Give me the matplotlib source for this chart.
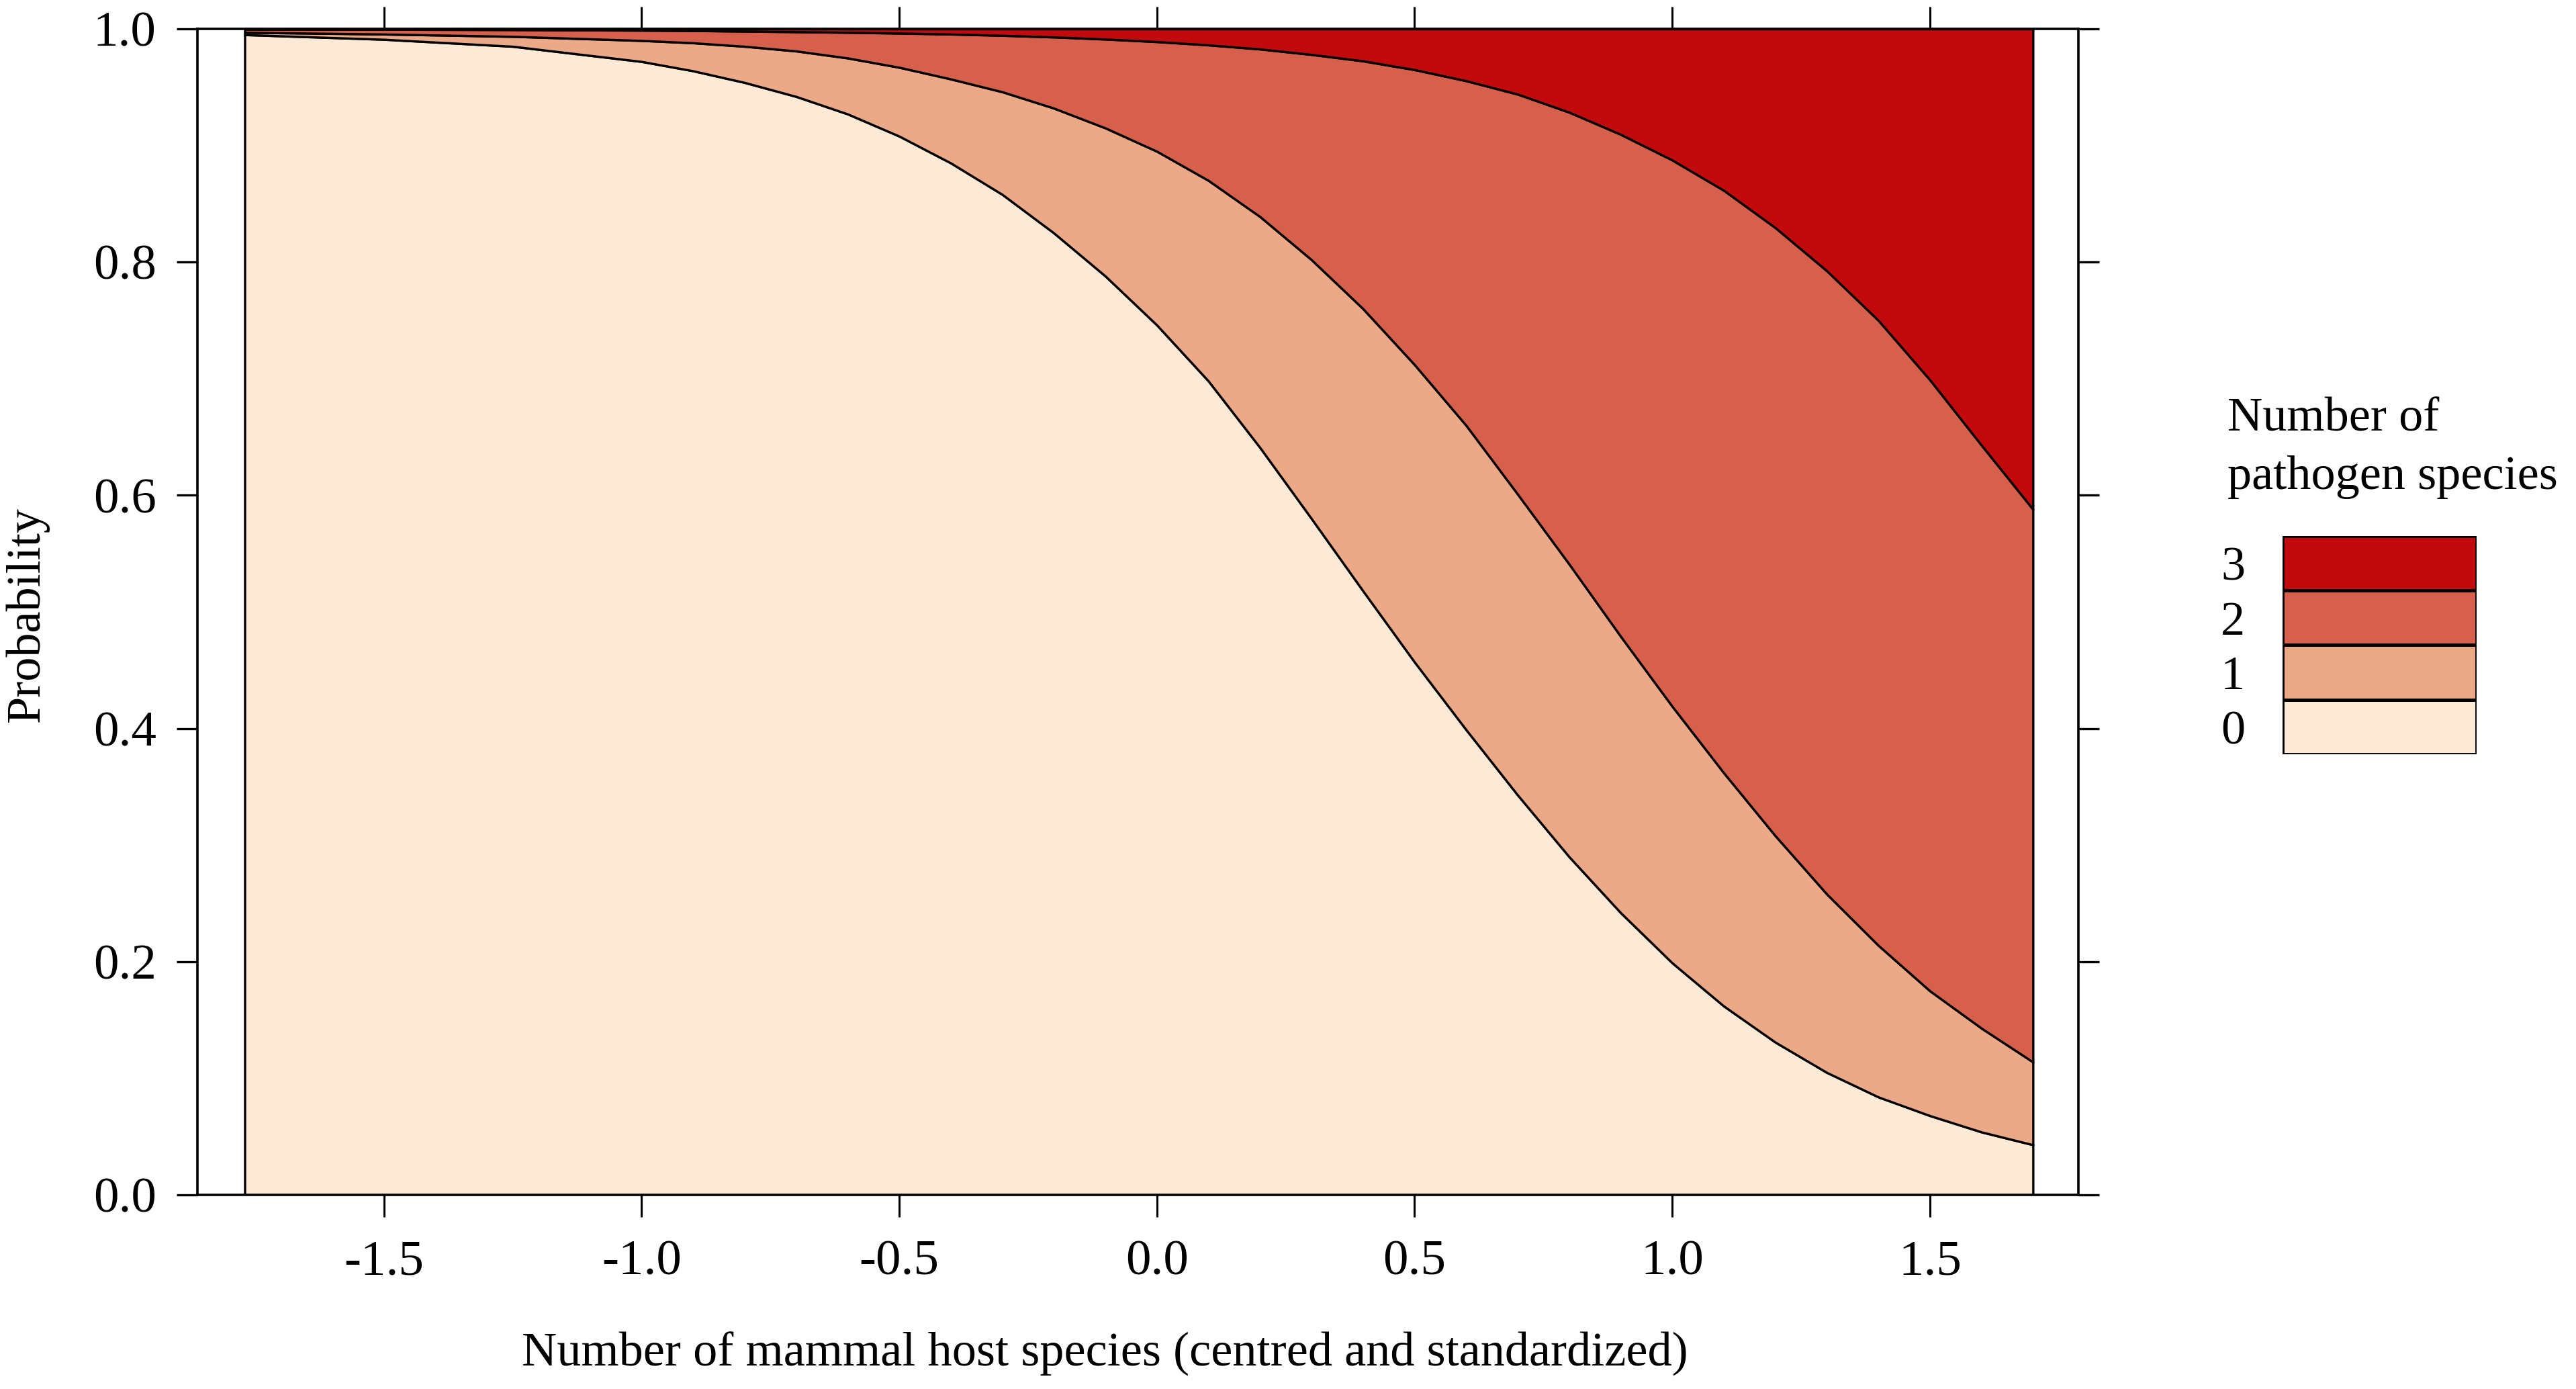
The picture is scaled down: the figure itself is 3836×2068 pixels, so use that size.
import numpy as np
import matplotlib.pyplot as plt

plt.rcParams['font.family'] = ['Liberation Serif', 'DejaVu Serif']
plt.rcParams['axes.unicode_minus'] = False

# cumulative probabilities
host_x = [-1.77, -1.5, -1.25, -1.0, -0.9, -0.8, -0.7, -0.6, -0.5, -0.4, -0.3, -0.2, -0.1,
          0.0, 0.1, 0.2, 0.3, 0.4, 0.5, 0.6, 0.7, 0.8, 0.9, 1.0, 1.1, 1.2, 1.3, 1.4,
          1.5, 1.6, 1.7]
p_le0 = [0.995, 0.991, 0.985, 0.972, 0.964, 0.954, 0.942, 0.927, 0.908, 0.885, 0.858,
         0.825, 0.788, 0.746, 0.698, 0.641, 0.580, 0.518, 0.457, 0.399, 0.343, 0.290,
         0.242, 0.199, 0.162, 0.131, 0.105, 0.084, 0.068, 0.054, 0.043]
p_le1 = [0.997, 0.9955, 0.9935, 0.990, 0.988, 0.985, 0.981, 0.975, 0.967, 0.957, 0.946,
         0.932, 0.915, 0.895, 0.870, 0.839, 0.802, 0.760, 0.712, 0.660, 0.601, 0.541,
         0.479, 0.419, 0.362, 0.308, 0.258, 0.214, 0.175, 0.143, 0.114]
p_le2 = [0.9998, 0.9996, 0.9993, 0.9988, 0.9985, 0.998, 0.9975, 0.997, 0.9963, 0.9955,
         0.9944, 0.993, 0.9912, 0.989, 0.9862, 0.9827, 0.978, 0.9725, 0.965, 0.9555,
         0.944, 0.9285, 0.9095, 0.8875, 0.8615, 0.8295, 0.7925, 0.750, 0.699, 0.643, 0.588]

levels = ['0', '1', '2', '3']
colors = ['#FCEAD6', '#EBA988', '#D6604B', '#C20A0C']

x = np.array(host_x)
bounds = [np.zeros_like(x), np.array(p_le0), np.array(p_le1), np.array(p_le2), np.ones_like(x)]

fig = plt.figure(figsize=(38.36, 20.68), dpi=100)
ax = fig.add_axes([0.0766, 0.1397, 0.7302, 0.8395])

for i in range(4):
    ax.fill_between(x, bounds[i], bounds[i + 1], facecolor=colors[i],
                    edgecolor='black', linewidth=2.4, joinstyle='round', zorder=1)

ax.set_xlim(-1.862, 1.788)
ax.set_ylim(0, 1)

ax.set_xticks([-1.5, -1.0, -0.5, 0.0, 0.5, 1.0, 1.5])
ax.set_xticklabels(['-1.5', '-1.0', '-0.5', '0.0', '0.5', '1.0', '1.5'])
ax.set_yticks([0.0, 0.2, 0.4, 0.6, 0.8, 1.0])
ax.set_yticklabels(['0.0', '0.2', '0.4', '0.6', '0.8', '1.0'])

ax.tick_params(axis='x', which='both', direction='out', top=True, labeltop=False,
               length=24, width=2.2, pad=24, labelsize=54)
ax.tick_params(axis='y', which='both', direction='out', right=True, labelright=False,
               length=22, width=2.4, pad=22, labelsize=54)
for s in ax.spines.values():
    s.set_linewidth(2.6)
    s.set_zorder(5)

fig.text(0.0105, 0.558, 'Probability', rotation=90, ha='center', va='center', fontsize=52)
fig.text(0.429, 0.025, 'Number of mammal host species (centred and standardized)',
         ha='center', va='center', fontsize=52)

# legend
fig.text(0.8647, 0.690, 'Number of', ha='left', va='baseline', fontsize=52)
fig.text(0.8647, 0.648, 'pathogen species', ha='left', va='baseline', fontsize=52)

lax = fig.add_axes([0.8860, 0.4571, 0.07534, 0.15706])
lax.barh(range(4), [1] * 4, height=1, left=0, color=colors, edgecolor='black', linewidth=3.5)
lax.set_xlim(0, 1)
lax.set_ylim(-0.5, 3.5)
lax.set_xticks([])
lax.set_yticks(range(4))
lax.set_yticklabels(levels)
lax.tick_params(axis='y', length=0, pad=40, labelsize=52)
for s in lax.spines.values():
    s.set_visible(False)

fig.savefig('out.png', dpi=100)
